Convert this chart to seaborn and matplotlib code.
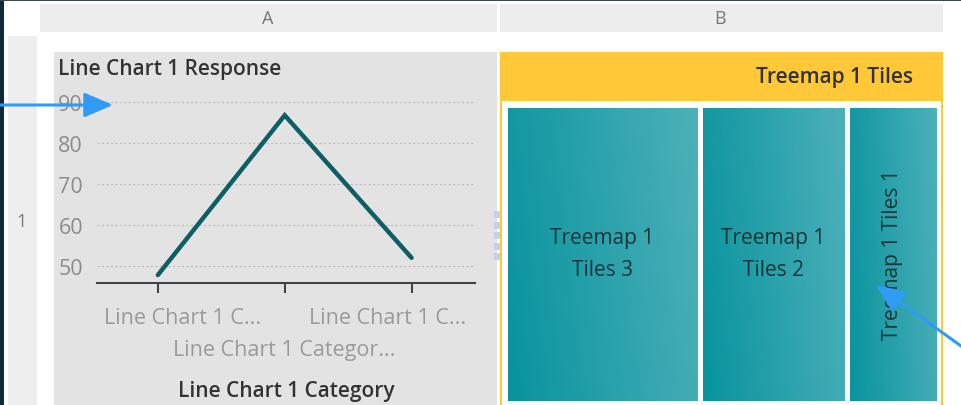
import matplotlib
import matplotlib.pyplot as plt
import matplotlib.transforms as mtransforms
import numpy as np
import pandas as pd
import seaborn as sns
from matplotlib.colors import LinearSegmentedColormap
from matplotlib.patches import Rectangle

matplotlib.use("Agg")

W, H = 961, 406

# line chart data
line_categories = ["Line Chart 1 Category 1", "Line Chart 1 Category 2", "Line Chart 1 Category 3"]
line_tick_labels = ["Line Chart 1 C...", "Line Chart 1 Categor...", "Line Chart 1 C..."]
line_values = [47.8, 86.8, 52.0]
y_ticks = [50, 60, 70, 80, 90]

# treemap data
tile_labels = ["Treemap 1\nTiles 3", "Treemap 1\nTiles 2", "Treemap 1 Tiles 1"]
tile_sizes = [45, 34, 21]

sns.set_theme(style="white")
plt.rcParams["font.family"] = ["Open Sans", "DejaVu Sans"]

PANEL_GREY = "#e3e3e3"
TEAL_LINE = "#0e5f63"
YELLOW = "#fec838"
ARROW_BLUE = "#2f9bf4"


def box(x0, y0, x1, y1):
    # pixel box (top-left origin) -> figure fraction rect
    return [x0 / W, 1 - y1 / H, (x1 - x0) / W, (y1 - y0) / H]


fig = plt.figure(figsize=(W / 100, H / 100), dpi=100)
fig.patch.set_facecolor("white")

# background layer in pixel coordinates
bg = fig.add_axes([0, 0, 1, 1])
bg.set_xlim(0, W)
bg.set_ylim(H, 0)
bg.axis("off")


def rect(x0, y0, x1, y1, color):
    bg.add_patch(Rectangle((x0, y0), x1 - x0, y1 - y0, facecolor=color, edgecolor="none"))


rect(0, 0, 4, H, "#10283a")
rect(0, 0, W, 2, "#3a4650")
rect(40, 5, 497, 33, "#ededed")
rect(500, 5, 943, 33, "#ededed")
rect(8, 37, 37, H, "#eeeeee")
bg.text(268, 19, "A", ha="center", va="center", fontsize=13, color="#777777")
bg.text(720, 19, "B", ha="center", va="center", fontsize=13, color="#777777")
bg.text(22, 222, "1", ha="center", va="center", fontsize=13, color="#777777")

# line chart panel
rect(54, 53, 497, H, PANEL_GREY)
bg.text(58, 70, "Line Chart 1 Response", ha="left", va="center", fontsize=15,
        fontweight="semibold", color="#333333")
bg.text(286, 392, "Line Chart 1 Category", ha="center", va="center", fontsize=15,
        fontweight="semibold", color="#333333")
for i in range(5):
    rect(494, 212 + i * 10.5, 501, 219 + i * 10.5, "#c3d4ea")

# treemap panel
rect(500, 53, 943, H, YELLOW)
rect(502, 102, 941, H, "white")
bg.text(913, 77, "Treemap 1 Tiles", ha="right", va="center", fontsize=15,
        fontweight="semibold", color="#333333")

# line chart
ax = fig.add_axes(box(97, 95, 475, 284))
ax.set_facecolor("none")
df = pd.DataFrame({"category": line_categories, "response": line_values})
sns.lineplot(data=df, x="category", y="response", ax=ax, color=TEAL_LINE,
             linewidth=3.2, solid_capstyle="round", solid_joinstyle="miter")
ax.set_xlim(-0.48, 2.5)
ax.set_ylim(45.85, 92)
ax.set_yticks(y_ticks)
ax.set_xticks(range(len(line_categories)), labels=line_tick_labels)
ax.set_xlabel("")
ax.set_ylabel("")
ax.yaxis.grid(True, linestyle=(0, (2, 2)), color="#bdbdbd", linewidth=0.8)
ax.xaxis.grid(False)
for side in ["top", "left", "right"]:
    ax.spines[side].set_visible(False)
ax.spines["bottom"].set_color("#444444")
ax.spines["bottom"].set_linewidth(1.5)
ax.tick_params(axis="y", left=False, length=0, pad=10, labelsize=15.5, labelcolor="#8c8c8c")
ax.tick_params(axis="x", bottom=True, length=7, width=1.5, color="#444444", pad=10,
               labelsize=15.5, labelcolor="#9a9a9a")

ticks = ax.xaxis.get_major_ticks()
ticks[1].set_pad(10 + 23)
for i, dx in [(0, 25), (2, -24)]:
    lab = ticks[i].label1
    lab.set_transform(lab.get_transform() + mtransforms.ScaledTranslation(dx / 100, 0, fig.dpi_scale_trans))

# treemap
tm = fig.add_axes(box(504.5, 105.5, 938.5, 403.5))
tm.axis("off")
lefts = np.cumsum([0] + tile_sizes[:-1])
bars = tm.bar(lefts, 1, width=tile_sizes, align="edge", facecolor="none",
              edgecolor="white", linewidth=3.6, zorder=3)
cmap = LinearSegmentedColormap.from_list("tile", ["#07939e", "#4eb1b9"])
gx, gy = np.meshgrid(np.linspace(0, 1, 200), np.linspace(0, 1, 200))
grad = 0.85 * gx + 0.15 * gy
for bar, left, size, label in zip(bars, lefts, tile_sizes, tile_labels):
    im = tm.imshow(grad, cmap=cmap, extent=(left, left + size, 1, 0), aspect="auto",
                   zorder=2, interpolation="bilinear")
    im.set_clip_path(bar)
    rot = 90 if "\n" not in label else 0
    tm.text(left + size / 2, 0.5, label, ha="center", va="center", fontsize=15,
            color="#1a3537", linespacing=1.7, rotation=rot, zorder=4)
tm.set_xlim(0, sum(tile_sizes))
tm.set_ylim(0, 1)

# annotation arrows on top
top = fig.add_axes([0, 0, 1, 1])
top.set_xlim(0, W)
top.set_ylim(H, 0)
top.axis("off")
top.patch.set_alpha(0)
arrow = dict(arrowstyle="-|>,head_length=0.7,head_width=0.3", color=ARROW_BLUE,
             lw=2.2, mutation_scale=25, shrinkA=0, shrinkB=0)
top.annotate("", xy=(113, 106), xytext=(-2, 106), arrowprops=arrow)
top.annotate("", xy=(876, 286), xytext=(968, 352), arrowprops=arrow)

fig.savefig("out.png", dpi=100)
